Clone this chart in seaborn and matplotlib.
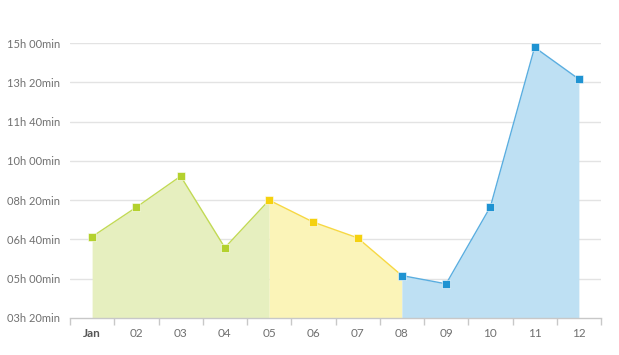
import matplotlib
matplotlib.use('agg')
import matplotlib.pyplot as plt
import seaborn as sns
import pandas as pd

# data (minutes)
months = ['Jan', '02', '03', '04', '05', '06', '07', '08', '09', '10', '11', '12']
minutes = [407, 482, 561, 379, 500, 444, 404, 308, 287, 483, 889, 808]

# colour zones: (start index, end index, line colour, marker colour, fill colour)
zones = [
    (0, 4, '#c2da55', '#b4d12e', '#e6efbf'),
    (4, 7, '#f7d843', '#f5d10f', '#fbf4b8'),
    (7, 11, '#5aaee0', '#1f93d2', '#bee0f3'),
]

yticks = [200, 300, 400, 500, 600, 700, 800, 900]


def fmt(m):
    return f"{m // 60:02d}h {m % 60:02d}min"


sns.set_style('white')
plt.rcParams['font.family'] = ['Lato', 'DejaVu Sans']

fig = plt.figure(figsize=(6.19, 3.55), dpi=100)
ax = fig.add_axes([70 / 619, 1 - 318 / 355, 531 / 619, 275 / 355])

df = pd.DataFrame({'x': range(len(months)), 'y': minutes})

for a, b, lc, mc, fc in zones:
    part = df.iloc[a:b + 1]
    ax.fill_between(part['x'], yticks[0], part['y'], color=fc, lw=0, zorder=1)
    sns.lineplot(data=part, x='x', y='y', ax=ax, color=lc, lw=1, zorder=3)

# markers take the colour of the zone they start (05 yellow, 08 blue)
for i, (x, y) in enumerate(zip(df['x'], df['y'])):
    c = zones[0][3]
    for a, b, lc, mc, fc in zones:
        if a <= i:
            c = mc
    ax.plot(x, y, marker='s', ms=6, color=c, mec='white', mew=0.4,
            zorder=4, clip_on=False)

ax.set_xlim(-0.5, len(months) - 0.5)
ax.set_ylim(yticks[0], yticks[-1])
ax.set_yticks(yticks)
ax.set_yticklabels([fmt(v) for v in yticks])
ax.set_xticks(range(len(months)))
ax.set_xticklabels(months)
ax.set_xlabel('')
ax.set_ylabel('')

for g in yticks[1:]:
    ax.axhline(g, color='#e3e3e3', lw=1, zorder=0)

for s in ['top', 'right', 'left']:
    ax.spines[s].set_visible(False)
ax.spines['bottom'].set_color('#c8c8c8')
ax.spines['bottom'].set_linewidth(1)

ax.tick_params(axis='y', length=0, pad=7, labelsize=8, labelcolor='#707070')
ax.tick_params(axis='x', length=0, pad=7, labelsize=8.5, labelcolor='#707070')
ax.set_xticks([i + 0.5 for i in range(-1, len(months))], minor=True)
ax.tick_params(axis='x', which='minor', bottom=True, length=5,
               color='#c8c8c8', width=1)
for lab in ax.get_xticklabels():
    if lab.get_text() == 'Jan':
        lab.set_fontweight('bold')
        lab.set_color('#555555')

fig.savefig('out.png', dpi=100)
